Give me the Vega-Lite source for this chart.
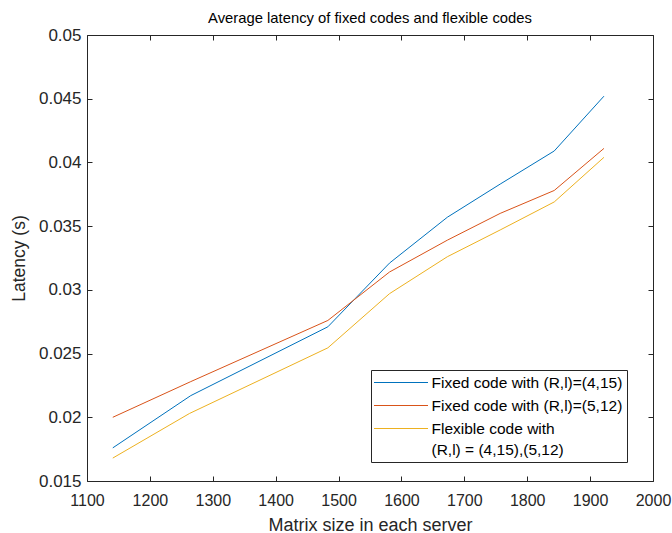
{
  "$schema": "https://vega.github.io/schema/vega-lite/v6.json",
  "autosize": {"type": "none"},
  "padding": {"left": 87, "top": 35, "right": 19, "bottom": 52},
  "width": 566,
  "height": 446,
  "background": "white",
  "config": {
    "font": "Liberation Sans",
    "view": {"stroke": "#262626", "strokeWidth": 1},
    "axis": {"grid": false, "labelColor": "#262626", "titleColor": "#262626", "tickColor": "#262626", "domainColor": "#262626", "titleFontWeight": "normal", "labelFlush": false}
  },
  "title": {"text": "Average latency of fixed codes and flexible codes", "fontSize": 14.8, "fontWeight": "normal", "color": "#000000", "offset": 0},
  "data": {"values": [
    {"series": "Fixed code with (R,l)=(4,15)", "x": 1141, "y": 0.0176},
    {"series": "Fixed code with (R,l)=(4,15)", "x": 1265, "y": 0.0217},
    {"series": "Fixed code with (R,l)=(4,15)", "x": 1483, "y": 0.0271},
    {"series": "Fixed code with (R,l)=(4,15)", "x": 1581, "y": 0.0321},
    {"series": "Fixed code with (R,l)=(4,15)", "x": 1673, "y": 0.0357},
    {"series": "Fixed code with (R,l)=(4,15)", "x": 1757, "y": 0.0383},
    {"series": "Fixed code with (R,l)=(4,15)", "x": 1843, "y": 0.0409},
    {"series": "Fixed code with (R,l)=(4,15)", "x": 1922, "y": 0.0452},
    {"series": "Fixed code with (R,l)=(5,12)", "x": 1141, "y": 0.0200},
    {"series": "Fixed code with (R,l)=(5,12)", "x": 1265, "y": 0.0228},
    {"series": "Fixed code with (R,l)=(5,12)", "x": 1483, "y": 0.0276},
    {"series": "Fixed code with (R,l)=(5,12)", "x": 1581, "y": 0.0314},
    {"series": "Fixed code with (R,l)=(5,12)", "x": 1673, "y": 0.0339},
    {"series": "Fixed code with (R,l)=(5,12)", "x": 1757, "y": 0.0360},
    {"series": "Fixed code with (R,l)=(5,12)", "x": 1843, "y": 0.0378},
    {"series": "Fixed code with (R,l)=(5,12)", "x": 1922, "y": 0.0411},
    {"series": "Flexible code with|(R,l) = (4,15),(5,12)", "x": 1141, "y": 0.0168},
    {"series": "Flexible code with|(R,l) = (4,15),(5,12)", "x": 1263, "y": 0.0203},
    {"series": "Flexible code with|(R,l) = (4,15),(5,12)", "x": 1483, "y": 0.02545},
    {"series": "Flexible code with|(R,l) = (4,15),(5,12)", "x": 1581, "y": 0.0297},
    {"series": "Flexible code with|(R,l) = (4,15),(5,12)", "x": 1673, "y": 0.0326},
    {"series": "Flexible code with|(R,l) = (4,15),(5,12)", "x": 1757, "y": 0.0347},
    {"series": "Flexible code with|(R,l) = (4,15),(5,12)", "x": 1843, "y": 0.0369},
    {"series": "Flexible code with|(R,l) = (4,15),(5,12)", "x": 1922, "y": 0.0404}
  ]},
  "layer": [
    {
      "mark": {"type": "line", "strokeWidth": 1, "clip": true},
      "encoding": {
        "x": {"field": "x", "type": "quantitative", "scale": {"domain": [1100, 2000], "nice": false, "zero": false},
              "axis": {"title": "Matrix size in each server", "values": [1100,1200,1300,1400,1500,1600,1700,1800,1900,2000], "format": "d", "tickSize": -5, "labelPadding": 16, "labelFontSize": 16, "titleFontSize": 18, "domain": false, "titlePadding": 8}},
        "y": {"field": "y", "type": "quantitative", "scale": {"domain": [0.015, 0.05], "nice": false, "zero": false},
              "axis": {"title": "Latency (s)", "values": [0.015,0.02,0.025,0.03,0.035,0.04,0.045,0.05], "format": "~g", "tickSize": -5, "labelPadding": 11, "labelFontSize": 17, "titleFontSize": 17.5, "domain": false, "titlePadding": 10}},
        "color": {"field": "series", "type": "nominal",
                  "scale": {"domain": ["Fixed code with (R,l)=(4,15)", "Fixed code with (R,l)=(5,12)", "Flexible code with|(R,l) = (4,15),(5,12)"], "range": ["#0072BD", "#D95319", "#EDB120"]},
                  "legend": {"title": null, "orient": "none", "legendX": 284, "legendY": 335, "symbolType": "M-3.375,0H3.375", "symbolSize": 256, "symbolStrokeWidth": 1, "symbolOffset": 17.5, "labelOffset": 22, "labelFontSize": 15.5, "labelColor": "#000000", "labelLimit": 300, "labelExpr": "split(datum.label, '|')", "strokeColor": "#262626", "fillColor": "white", "padding": 4, "rowPadding": 6,
                             "encode": {"labels": {"update": {"lineHeight": {"value": 21}}}}}}
      }
    },
    {
      "mark": {"type": "line", "opacity": 0},
      "encoding": {
        "x": {"field": "x", "type": "quantitative", "axis": {"orient": "top", "title": null, "labels": false, "domain": false, "tickSize": -5, "values": [1100,1200,1300,1400,1500,1600,1700,1800,1900,2000]}},
        "y": {"field": "y", "type": "quantitative", "axis": {"orient": "right", "title": null, "labels": false, "domain": false, "tickSize": -5, "values": [0.015,0.02,0.025,0.03,0.035,0.04,0.045,0.05]}},
        "detail": {"field": "series"}
      }
    }
  ],
  "resolve": {"axis": {"x": "independent", "y": "independent"}}
}
